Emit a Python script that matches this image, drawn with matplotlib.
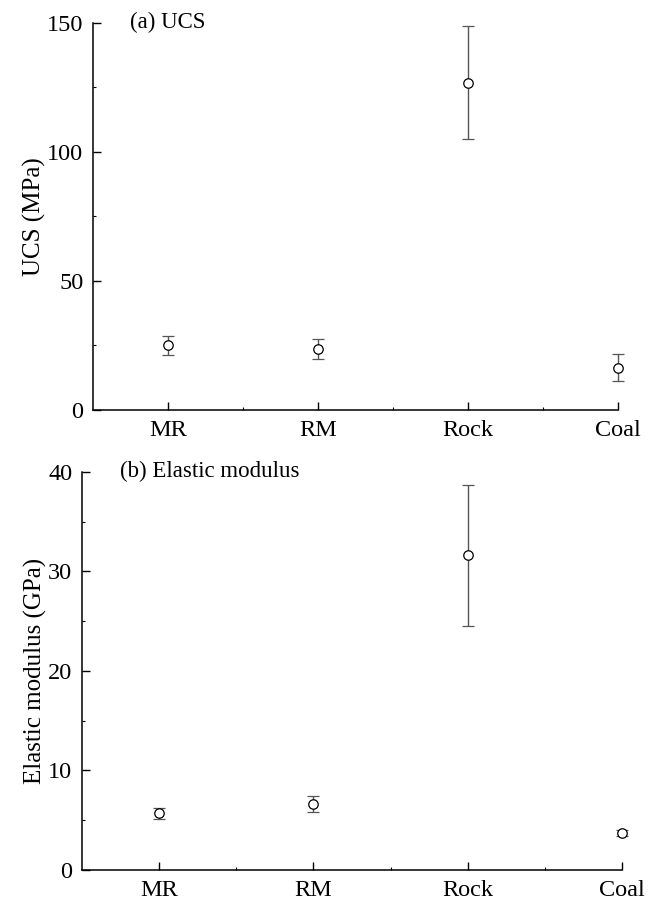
import matplotlib
matplotlib.use('Agg')
import matplotlib.pyplot as plt
from matplotlib.ticker import MultipleLocator, FixedLocator

plt.rcParams['font.family'] = ['Liberation Serif', 'DejaVu Serif']

categories = ['MR', 'RM', 'Rock', 'Coal']

# uniaxial compressive strength, mean and std (MPa)
ucs_mean = [25.0, 23.6, 126.8, 16.4]
ucs_err = [3.7, 3.8, 22.0, 5.2]

# elastic modulus, mean and std (GPa)
em_mean = [5.7, 6.6, 31.6, 3.7]
em_err = [0.55, 0.8, 7.1, 0.3]

fig = plt.figure(figsize=(6.57, 9.02), dpi=100)
ax1 = fig.add_axes([0.1416, 0.5455, 0.799, 0.4293])
ax2 = fig.add_axes([0.1248, 0.0355, 0.822, 0.4415])

xpos = list(range(1, len(categories) + 1))


def style_axis(ax, means, errs, ymax, ystep, ylabel, tag):
    eb = ax.errorbar(xpos, means, yerr=errs, fmt='o', ms=6.8,
                     mfc='white', mec='black', mew=0.9, ecolor='#555555',
                     elinewidth=1.0, capsize=4, capthick=1.0, zorder=3)
    for art in eb.lines[0:1] + tuple(eb.lines[1]) + tuple(eb.lines[2]):
        art.set_clip_on(False)
    ax.set_xlim(0.5, 4)
    ax.set_ylim(0, ymax)
    ax.spines['top'].set_visible(False)
    ax.spines['right'].set_visible(False)
    for s in ['left', 'bottom']:
        ax.spines[s].set_linewidth(1.1)
    ax.set_xticks(xpos)
    ax.set_xticklabels(categories)
    ax.xaxis.set_minor_locator(FixedLocator([1.5, 2.5, 3.5]))
    ax.yaxis.set_major_locator(MultipleLocator(ystep))
    ax.yaxis.set_minor_locator(MultipleLocator(ystep / 2))
    ax.tick_params(which='major', direction='in', length=6, width=1.0,
                   labelsize=17.5, pad=7)
    ax.tick_params(which='minor', direction='in', length=2.5, width=0.8)
    ax.set_ylabel(ylabel, fontsize=18, labelpad=1)
    ax.text(0.07, 1.0, tag, transform=ax.transAxes, fontsize=16.5,
            ha='left', va='center', clip_on=False)


style_axis(ax1, ucs_mean, ucs_err, 150, 50, 'UCS (MPa)', '(a) UCS')
style_axis(ax2, em_mean, em_err, 40, 10, 'Elastic modulus (GPa)',
           '(b) Elastic modulus')

fig.savefig('out.png', dpi=100)
